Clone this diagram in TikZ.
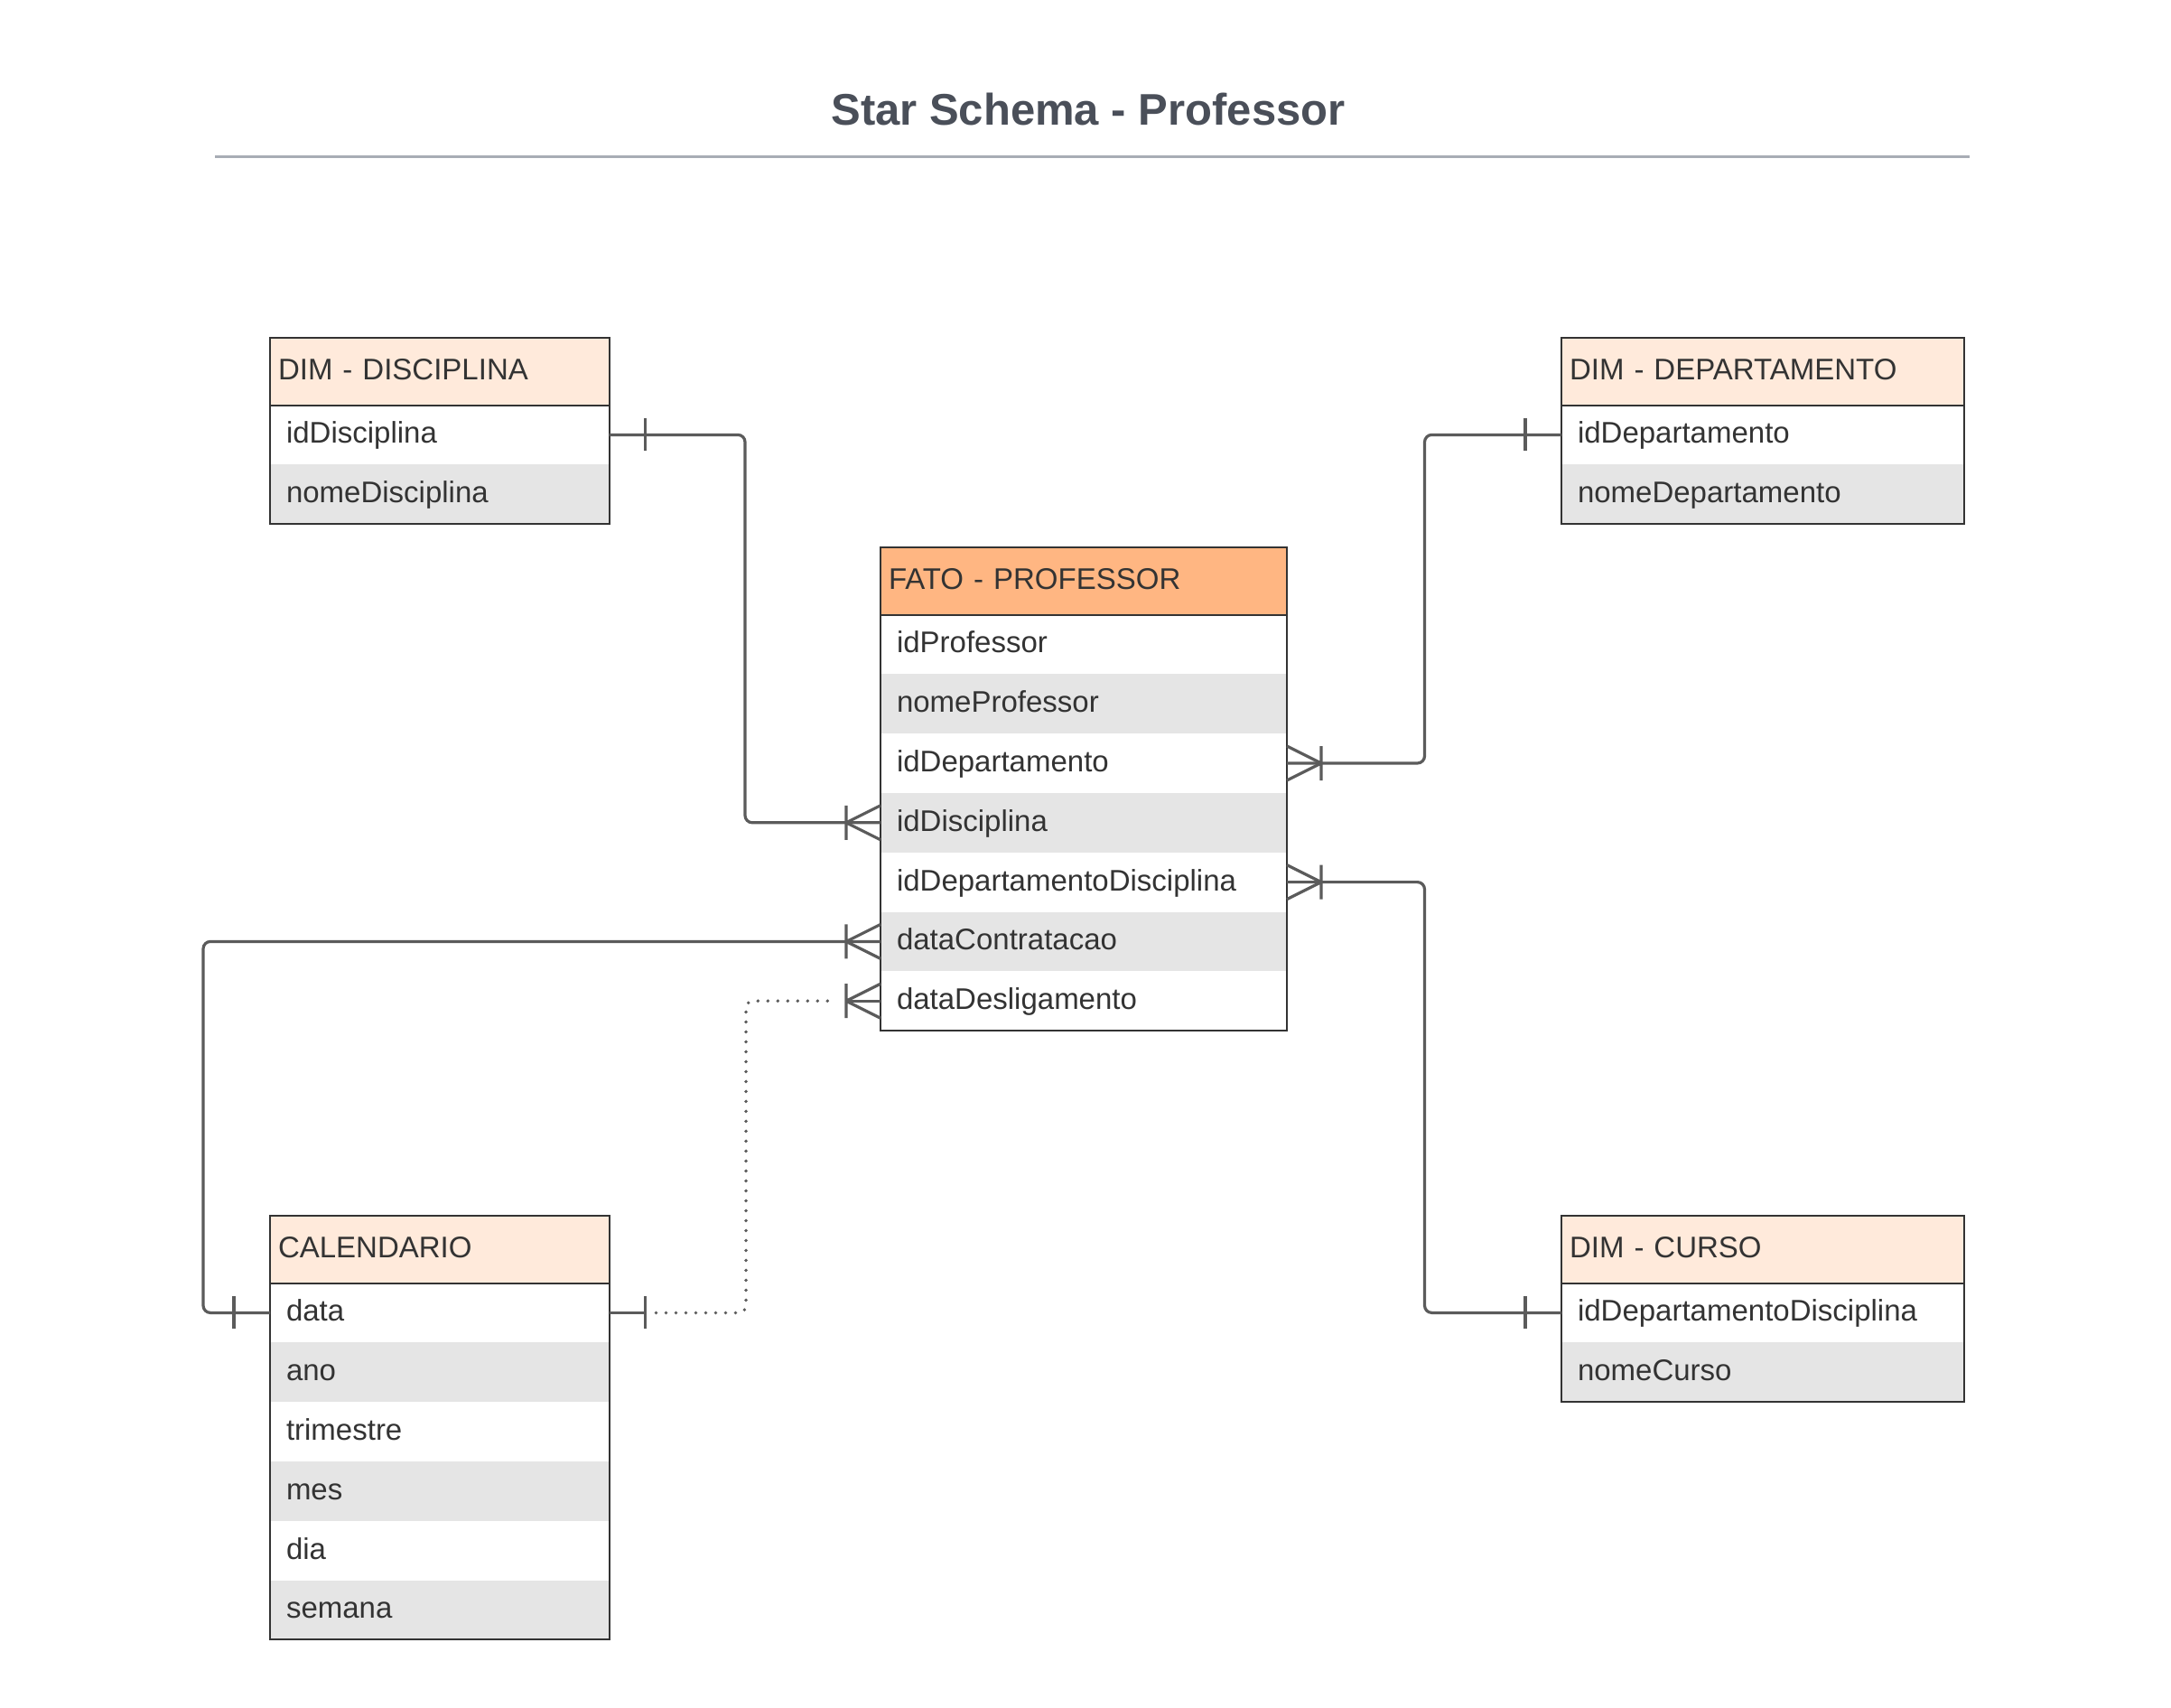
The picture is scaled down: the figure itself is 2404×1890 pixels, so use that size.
\documentclass[tikz,border=0pt]{standalone}
\usepackage{fontspec}
\setmainfont{Liberation Sans}
\usetikzlibrary{calc}
\definecolor{txt}{HTML}{333333}
\definecolor{bord}{HTML}{333333}
\definecolor{dimhead}{HTML}{FFEADB}
\definecolor{facthead}{HTML}{FFB682}
\definecolor{rowgray}{HTML}{E5E5E5}
\definecolor{conncol}{HTML}{5B5B5B}
\definecolor{titlecol}{HTML}{4A4F59}
\definecolor{rulecol}{HTML}{A8ADB5}
\def\hdrh{74.5}
\def\rowh{65.8}
\tikzset{
  hdrbox/.style={anchor=north west, inner xsep=9bp, inner ysep=0bp, minimum height=\hdrh bp,
    align=left, font=\fontsize{33bp}{40bp}\selectfont, text=txt, text height=23.6bp, text depth=4.5bp, outer sep=0bp},
  rowbox/.style={anchor=north west, inner xsep=18bp, inner ysep=0bp, minimum height=\rowh bp,
    align=left, font=\fontsize{33bp}{40bp}\selectfont, text=txt, text height=23.6bp, text depth=4.5bp, outer sep=0bp},
  tblborder/.style={draw=bord, line width=2bp},
  conn/.style={draw=conncol, line width=3.2bp, rounded corners=8bp},
  dotline/.style={draw=conncol, line width=3.8bp, dash pattern=on 0bp off 11bp, line cap=round, rounded corners=8bp},
  titletext/.style={font=\fontsize{49bp}{58bp}\selectfont\bfseries, text=titlecol, inner sep=0bp},
}
\newcommand{\ertable}[8]{%
  \pgfmathsetmacro\hdrtw{(#4-18)*1.00375}%
  \pgfmathsetmacro\rowtw{(#4-36)*1.00375}%
  \pgfmathsetmacro\tblw{#4*1.00375}%
  \node[hdrbox, fill=#5, text width=\hdrtw pt, minimum width=\tblw pt] (#1) at (#2,#3) {#6};
  \foreach \r [count=\i] in {#8}{%
    \ifodd\i\relax \def\rf{white}\else \def\rf{rowgray}\fi
    \node[rowbox, fill=\rf, text width=\rowtw pt, minimum width=\tblw pt] (#1-\i) at ({#2},{#3+\hdrh+\rowh*(\i-1)}) {\r};
  }
  \draw[tblborder] (#1.north west) rectangle (#1-#7.south east);
  \draw[tblborder] (#1.south west) -- (#1.south east);
}
\newcommand{\manymark}[2]{%
  \draw[conn] ($(#1)+(#2*38,0)$) -- ($(#1)+(0,-19)$)
              ($(#1)+(#2*38,0)$) -- ($(#1)+(0,19)$)
              ($(#1)+(#2*38,-19)$) -- ($(#1)+(#2*38,19)$);}
\newcommand{\onemark}[2]{%
  \draw[conn] ($(#1)+(#2*40,-18)$) -- ($(#1)+(#2*40,18)$);}
\begin{document}
\begin{tikzpicture}[x=1bp,y=-1bp]
\useasboundingbox[fill=white] (0,0) rectangle (2404,1890);
% title
\node[titletext] (title) at (1205,121) {Star Schema - Professor};
\coordinate (ruleL) at (238,173);
\coordinate (ruleR) at (2181,173);
\draw[rulecol, line width=3bp] (ruleL) -- (ruleR);
% tables
\ertable{disc}{299}{374}{375.5}{dimhead}{DIM - DISCIPLINA}{2}{idDisciplina,nomeDisciplina}
\ertable{dept}{1729}{374}{446}{dimhead}{DIM - DEPARTAMENTO}{2}{idDepartamento,nomeDepartamento}
\ertable{fact}{975}{606}{450}{facthead}{FATO - PROFESSOR}{7}{idProfessor,nomeProfessor,idDepartamento,idDisciplina,idDepartamentoDisciplina,dataContratacao,dataDesligamento}
\ertable{cal}{299}{1346}{375.5}{dimhead}{CALENDARIO}{6}{data,ano,trimestre,mes,dia,semana}
\ertable{curso}{1729}{1346}{446}{dimhead}{DIM - CURSO}{2}{idDepartamentoDisciplina,nomeCurso}
% connectors
\coordinate (b1) at (825,700);
\draw[conn] (disc-1.east) -| (b1) |- (fact-4.west);
\coordinate (b2) at (1577.5,700);
\draw[conn] (dept-1.west) -| (b2) |- (fact-3.east);
\coordinate (b3) at (1577.5,1200);
\draw[conn] (curso-1.west) -| (b3) |- (fact-5.east);
\coordinate (b4) at (225,1200);
\draw[conn] (cal-1.west) -| (b4) |- (fact-6.west);
\coordinate (b5) at (826,1300);
\draw[conn] (cal-1.east) -- ($(cal-1.east)+(40,0)$);
\draw[dotline] ($(cal-1.east)+(52,0)$) -| (b5) |- ($(fact-7.west)+(-50,0)$);
\draw[conn] ($(fact-7.west)+(-38,0)$) -- (fact-7.west);
% cardinality marks
\onemark{disc-1.east}{1}
\manymark{fact-4.west}{-1}
\onemark{dept-1.west}{-1}
\manymark{fact-3.east}{1}
\onemark{curso-1.west}{-1}
\manymark{fact-5.east}{1}
\onemark{cal-1.west}{-1}
\manymark{fact-6.west}{-1}
\onemark{cal-1.east}{1}
\manymark{fact-7.west}{-1}
\end{tikzpicture}
\end{document}
